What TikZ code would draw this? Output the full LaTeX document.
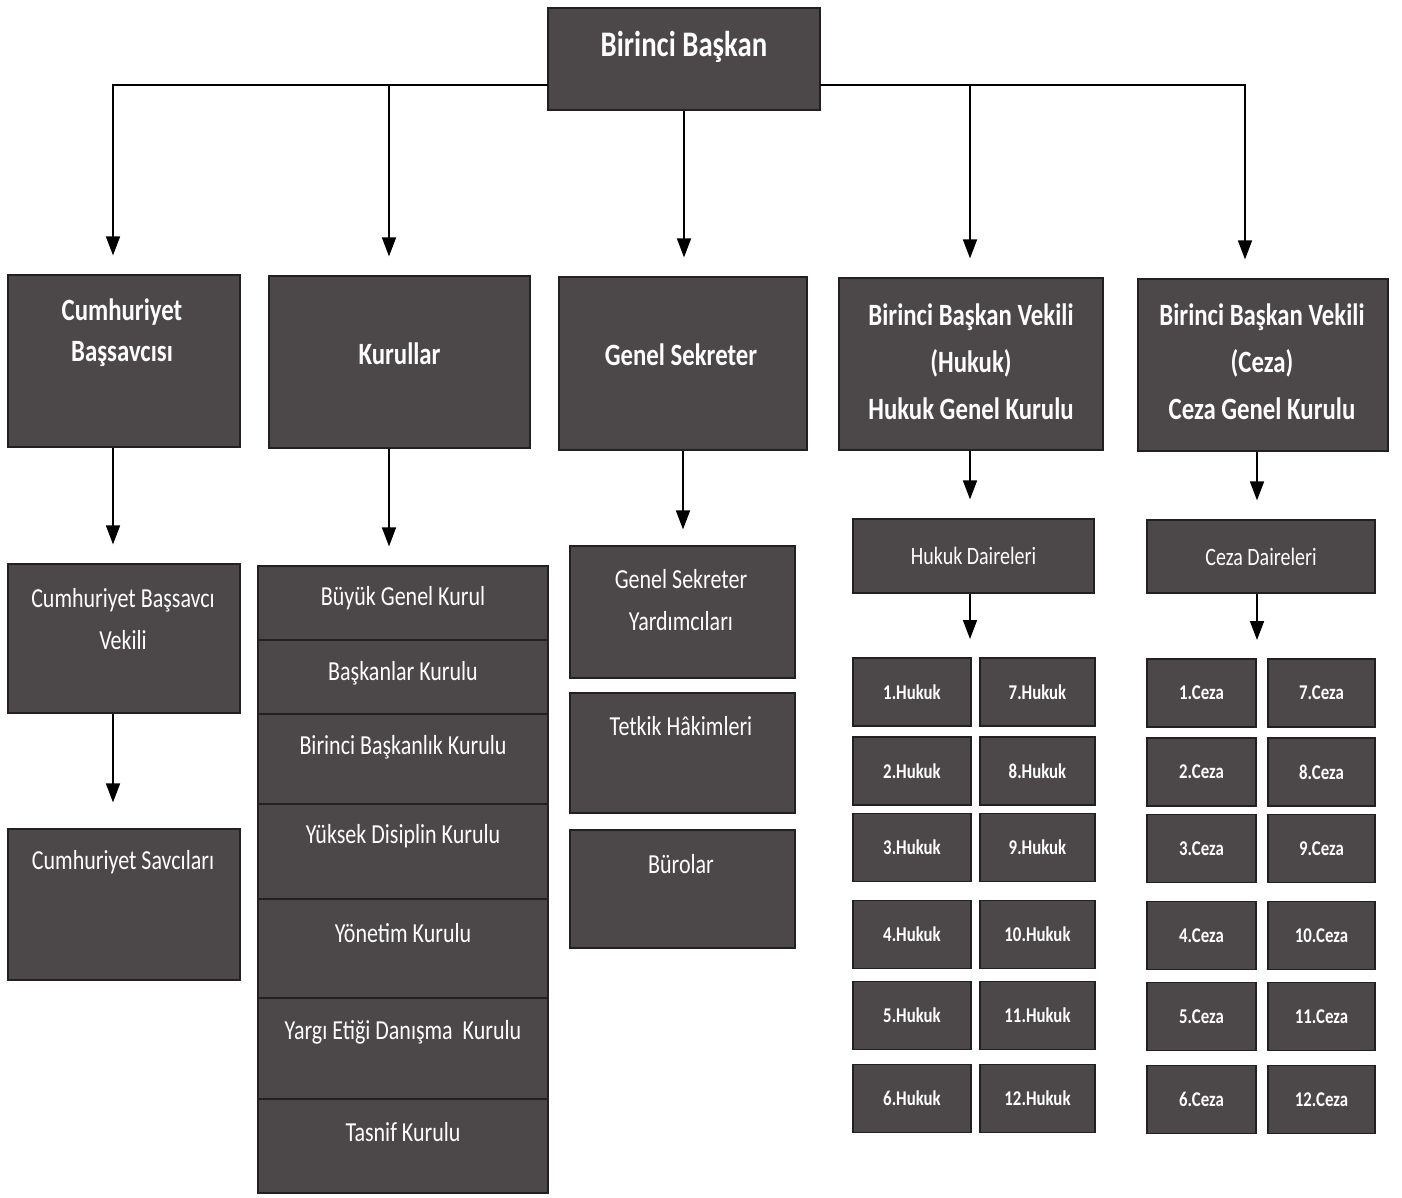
\documentclass[tikz,border=0pt]{standalone}
\usepackage{fontspec}
\setmainfont{Carlito}[FakeStretch=0.8]
\usetikzlibrary{arrows.meta}
\definecolor{boxgray}{RGB}{76,71,72}
\definecolor{edgegray}{RGB}{35,32,33}
\begin{document}
\begin{tikzpicture}[x=1pt, y=-1pt,
    box/.style ={rectangle, draw=edgegray, line width=1.2pt, fill=boxgray, inner sep=0pt},
    titletext/.style ={text=white, font=\fontsize{36}{40}\selectfont\bfseries, align=center},
    headtext/.style ={text=white, font=\fontsize{31}{47}\selectfont\bfseries, align=center},
    subtext/.style ={text=white, font=\fontsize{27.5}{42}\selectfont, align=center},
    daire/.style ={box, text=white, font=\fontsize{25}{28}\selectfont},
    cell/.style ={box, minimum height=68pt, text=white, font=\fontsize{21}{23}\selectfont\bfseries},
    conn/.style ={line width=1.6pt, -{Triangle[length=19pt,width=14pt]}, shorten >=19pt}]
   \useasboundingbox (0,0) rectangle (1402,1197);
   % top
   \node[box, minimum width=272pt, minimum height=102pt] (bb) at (684,59) {};
   \node[titletext] (bb-t) at (684,47) {Birinci Başkan};
   % second row
   \node[box, minimum width=232pt, minimum height=172pt] (cb) at (124,361) {};
   \node[headtext] (cb-t) at (122,333) {Cumhuriyet\\[-6pt]Başsavcısı};
   \node[box, minimum width=261pt, minimum height=172pt] (kur) at (399.5,362) {};
   \node[headtext] (kur-t) at (399.5,354) {Kurullar};
   \node[box, minimum width=248pt, minimum height=173pt] (gs) at (683,363.5) {};
   \node[headtext] (gs-t) at (681,355) {Genel Sekreter};
   \node[box, minimum width=264pt, minimum height=172pt] (bbvh) at (971,364) {};
   \node[headtext] (bbvh-t) at (971,362) {Birinci Başkan Vekili\\(Hukuk)\\Hukuk Genel Kurulu};
   \node[box, minimum width=250pt, minimum height=172pt] (bbvc) at (1263,365) {};
   \node[headtext] (bbvc-t) at (1262,362) {Birinci Başkan Vekili\\(Ceza)\\Ceza Genel Kurulu};
   % third row
   \node[box, minimum width=232pt, minimum height=149pt] (cbv) at (124,638.5) {};
   \node[subtext] (cbv-t) at (123,619) {Cumhuriyet Başsavcı\\Vekili};
   \node[box, minimum width=232pt, minimum height=151pt] (sav) at (124,904.5) {};
   \node[subtext] (sav-t) at (123,862) {Cumhuriyet Savcıları};
   \foreach \n/\y/\h/\ty/\txt in {1/603/74/598/Büyük Genel Kurul,
       2/677/74/673/Başkanlar Kurulu,
       3/759/90/747/Birinci Başkanlık Kurulu,
       4/851.5/95/836/Yüksek Disiplin Kurulu,
       5/948.5/99/933/Yönetim Kurulu,
       6/1048.5/101/1032/Yargı Etiği Danışma\ \ Kurulu,
       7/1146/94/1132/Tasnif Kurulu}{
     \node[box, minimum width=290pt, minimum height=\h pt] (k\n) at (403,\y) {};
     \node[subtext] (k\n-t) at (403,\ty) {\txt};
   }
   \node[box, minimum width=225pt, minimum height=132pt] (gsy) at (682.5,612) {};
   \node[subtext] (gsy-t) at (681,600) {Genel Sekreter\\Yardımcıları};
   \node[box, minimum width=225pt, minimum height=120pt] (tet) at (682.5,753) {};
   \node[subtext] (tet-t) at (681,726) {Tetkik Hâkimleri};
   \node[box, minimum width=225pt, minimum height=118pt] (bur) at (682.5,889) {};
   \node[subtext] (bur-t) at (681,864) {Bürolar};
   \node[daire, minimum width=241pt, minimum height=74pt] (hd) at (973.5,556) {Hukuk Daireleri};
   \node[daire, minimum width=228pt, minimum height=73pt] (cd) at (1261,556.5) {Ceza Daireleri};
   % chambers
   \foreach \a/\b/\y in {1/7/692, 2/8/771, 3/9/847.5, 4/10/934.5, 5/11/1015.5, 6/12/1098.5}{
     \node[cell, minimum width=118pt] (h\a) at (912,\y) {\a.Hukuk};
     \node[cell, minimum width=115pt] (h\b) at (1037.5,\y) {\b.Hukuk};
     \node[cell, minimum width=109pt] (c\a) at (1201.5,\y+1) {\a.Ceza};
     \node[cell, minimum width=107pt] (c\b) at (1321.5,\y+1) {\b.Ceza};
   }
   % connectors
   \coordinate (busL) at (548,85);
   \coordinate (busR) at (820,85);
   \coordinate (hgrid) at (970,658);
   \coordinate (cgrid) at (1257,659);
   \draw[conn] (busL) -| ([xshift=-11pt]cb.north);
   \draw[conn] (busL) -| ([xshift=-10.5pt]kur.north);
   \draw[conn] (bb.south) -- (bb.south |- gs.north);
   \draw[conn] (busR) -| ([xshift=-1pt]bbvh.north);
   \draw[conn] (busR) -| ([xshift=-18pt]bbvc.north);
   \draw[conn] ([xshift=-11pt]cb.south) -- ([xshift=-11pt]cbv.north);
   \draw[conn, shorten >=26pt] ([xshift=-11pt]cbv.south) -- ([xshift=-11pt]sav.north);
   \draw[conn] ([xshift=-10.5pt]kur.south) -- ([xshift=-14pt]k1.north);
   \draw[conn, shorten >=16pt] (gs.south) -- (gs.south |- gsy.north);
   \draw[conn] ([xshift=-1pt]bbvh.south) -- ([xshift=-3.5pt]hd.north);
   \draw[conn] ([xshift=-6pt]bbvc.south) -- ([xshift=-4pt]cd.north);
   \draw[conn] (hd.south -| hgrid) -- (hgrid);
   \draw[conn] (cd.south -| cgrid) -- (cgrid);
\end{tikzpicture}
\end{document}
